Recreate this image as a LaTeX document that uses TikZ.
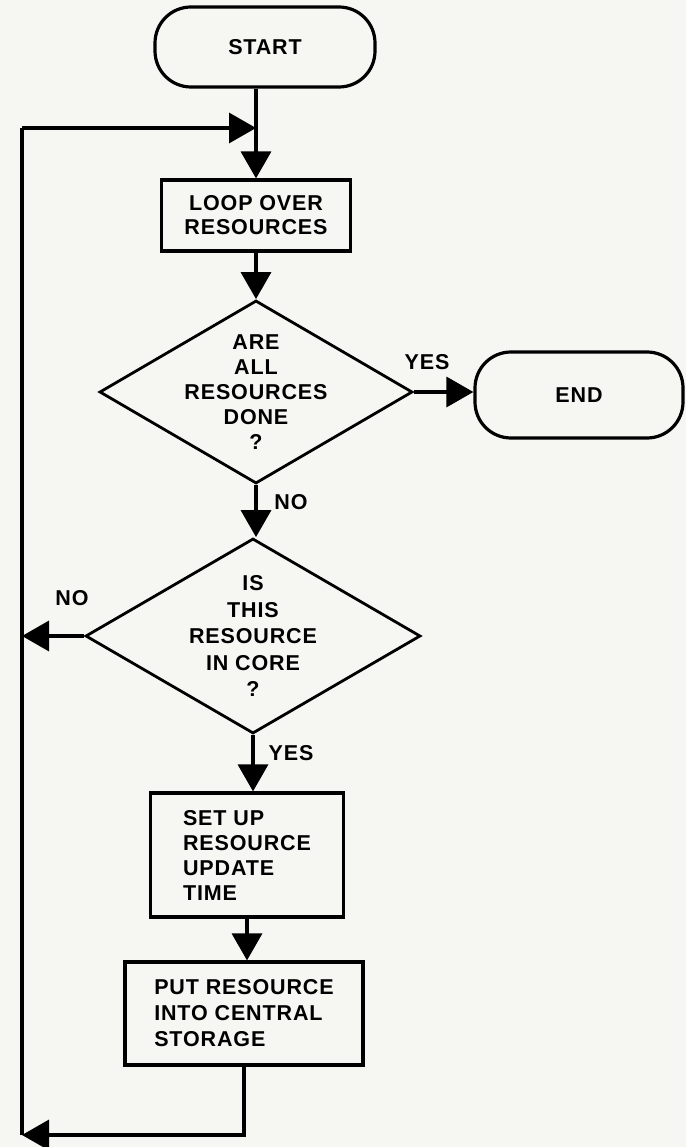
\documentclass[tikz,border=0pt]{standalone}
\usepackage{fontspec}
\setmainfont{Liberation Sans}[LetterSpace=4]
\usetikzlibrary{shapes.geometric,arrows.meta}
\definecolor{paper}{HTML}{F6F6F3}
\newcommand\flowfont{\fontsize{21.5}{24}\selectfont\bfseries}
\tikzset{
  outline/.style={draw=black, line width=3.2pt},
  terminal/.style={outline, rectangle, rounded corners=36pt, inner sep=0pt, font=\flowfont},
  process/.style={outline, rectangle, inner sep=0pt, font=\flowfont},
  decision/.style={outline, diamond, inner sep=0pt, line width=2.8pt},
  qtext/.style={font=\flowfont, align=center},
  flowline/.style={line width=3.4pt},
  arrow/.style={flowline, -{Triangle[length=27pt,width=30pt]}},
  tag/.style={font=\flowfont, inner sep=0pt},
}
\begin{document}
\begin{tikzpicture}[x=1pt,y=-1pt]
  \fill[paper] (0,0) rectangle (686,1147);
  \useasboundingbox (0,0) rectangle (686,1147);

  % flowchart boxes
  \node[terminal, minimum width=220pt, minimum height=80pt] (start) at (265,47) {START};
  \node[process, minimum width=189pt, minimum height=71pt, align=center] (loop) at (256,215.5)
    {LOOP OVER\\RESOURCES};
  \node[decision, minimum width=313pt, minimum height=183pt,
        label={[qtext, font=\fontsize{21.5}{25}\selectfont\bfseries]center:{ARE\\ALL\\RESOURCES\\DONE\\?}}] (q1) at (256,392) {};
  \node[terminal, minimum width=208pt, minimum height=86pt] (end) at (579,395) {END};
  \node[decision, minimum width=335pt, minimum height=195pt,
        label={[qtext, font=\fontsize{21.5}{26.5}\selectfont\bfseries]center:{IS\\THIS\\RESOURCE\\IN CORE\\?}}] (q2) at (253,636) {};
  \node[process, minimum width=193pt, minimum height=124pt, align=left,
        font=\fontsize{21.5}{25}\selectfont\bfseries] (setup) at (247,855)
    {SET UP\\RESOURCE\\UPDATE\\TIME};
  \node[process, minimum width=238pt, minimum height=103pt, align=left,
        font=\fontsize{21.5}{26}\selectfont\bfseries] (put) at (244,1013.5)
    {PUT RESOURCE\\INTO CENTRAL\\STORAGE};

  % return loop corners
  \coordinate (looptop) at (22,128);
  \coordinate (loopbot) at (22,1135);

  % connectors
  \draw[arrow] (start.south -| loop.north) -- (loop.north);
  \draw[flowline] (loopbot) -- (looptop);
  \draw[arrow] (looptop) -- (looptop -| loop.north);
  \draw[arrow] (loop.south) -- (q1.north);
  \draw[arrow] (q1.east) -- (q1.east -| end.west);
  \draw[arrow] (q1.south) -- (q1.south |- q2.north);
  \draw[arrow] (q2.west) -- (q2.west -| looptop);
  \draw[arrow] (q2.south) -- (q2.south |- setup.north);
  \draw[arrow] (setup.south) -- (setup.south |- put.north);
  \draw[arrow] (put.south) -- (put.south |- loopbot) -- (loopbot);

  % branch labels
  \node[tag] (yes1) at (427,362) {YES};
  \node[tag] (no1) at (291,502) {NO};
  \node[tag] (no2) at (72,598) {NO};
  \node[tag] (yes2) at (291,753) {YES};
\end{tikzpicture}
\end{document}
